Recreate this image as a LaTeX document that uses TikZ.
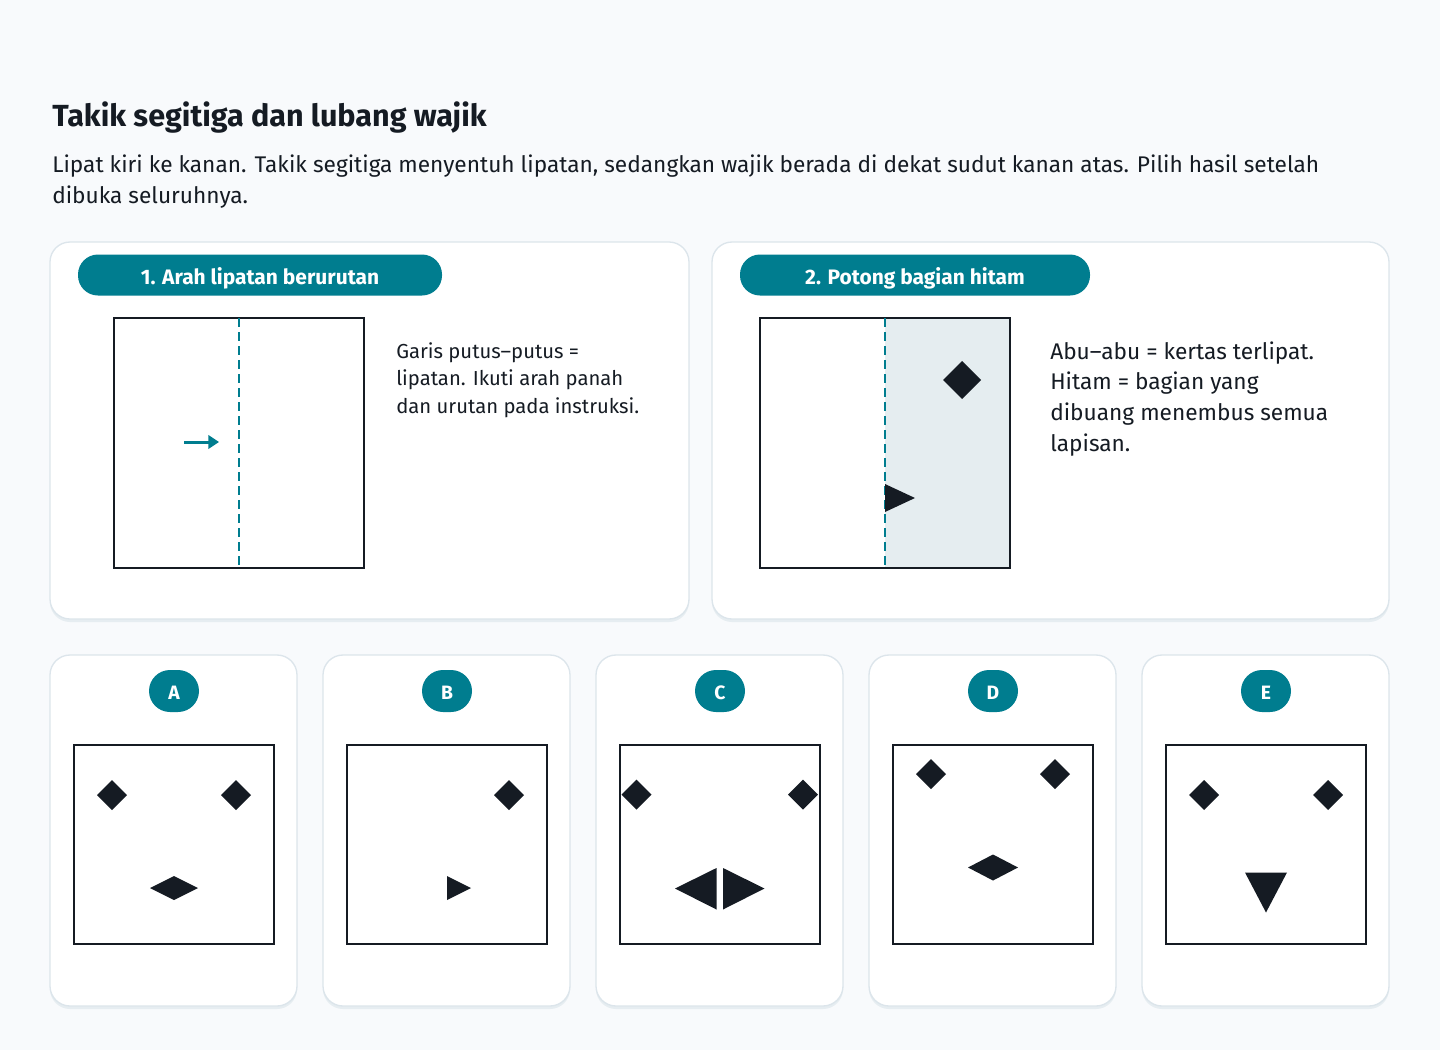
\documentclass[tikz,border=0pt]{standalone}
\usepackage{fontspec}
\setmainfont{Fira Sans}
\usetikzlibrary{arrows.meta}

\definecolor{bgc}{HTML}{F8FAFC}
\definecolor{ink}{HTML}{151B23}
\definecolor{lipteal}{HTML}{007D8F}
\definecolor{cardline}{HTML}{DCE5EB}
\definecolor{shadowc}{HTML}{E6EDF1}
\definecolor{foldgray}{HTML}{E5EDF0}

\tikzset{
  card/.style={draw=cardline, line width=1pt, fill=white, rounded corners=15pt},
  cardshadow/.style={fill=shadowc, rounded corners=15pt},
  pill/.style={fill=lipteal, text=white, rounded corners=15pt, minimum height=30.75pt,
    inner sep=0pt, text height=13.5pt, text depth=0pt, font=\fontsize{15.7}{18}\selectfont\bfseries},
  badge/.style={fill=lipteal, text=white, rounded corners=15.75pt, minimum width=37.5pt,
    minimum height=31.5pt, inner sep=0pt, text height=12.5pt, text depth=0pt,
    font=\fontsize{14.5}{17}\selectfont\bfseries},
  paper/.style={draw=ink, line width=1.5pt},
  fold/.style={draw=lipteal, line width=1.5pt, dash pattern=on 7pt off 3.5pt},
  hole/.style={fill=ink},
  note/.style={anchor=base west, inner sep=0pt, text=ink}
}

% diamond hole: centre x, centre y, half width, half height
\newcommand{\wajik}[4]{\fill[hole] (#1-#3,#2) -- (#1,#2-#4) -- (#1+#3,#2) -- (#1,#2+#4) -- cycle;}

\begin{document}
\begin{tikzpicture}[x=0.75pt,y=-0.75pt]
  \fill[bgc] (0,0) rectangle (1440,1050);
  \useasboundingbox (0,0) rectangle (1440,1050);

  % heading
  \node[note, font=\fontsize{22.9}{27}\selectfont\bfseries] (judul) at (52,126) {Takik segitiga dan lubang wajik};
  \node[note, font=\fontsize{17}{20}\selectfont] (soal1) at (52,172) {Lipat kiri ke kanan. Takik segitiga menyentuh lipatan, sedangkan wajik berada di dekat sudut kanan atas. Pilih hasil setelah};
  \node[note, font=\fontsize{17}{20}\selectfont] (soal2) at (52,203) {dibuka seluruhnya.};

  % step cards
  \fill[cardshadow] (50,245) rectangle (689,622);
  \draw[card] (50,242) rectangle (689,619);
  \fill[cardshadow] (712,245) rectangle (1389,622);
  \draw[card] (712,242) rectangle (1389,619);
  \node[pill, minimum width=273pt] (langkah1) at (260,275) {1. Arah lipatan berurutan};
  \node[pill, minimum width=262.5pt] (langkah2) at (915,275) {2. Potong bagian hitam};

  % step 1
  \draw[paper, fill=white] (114,318) rectangle (364,568);
  \draw[fold] (239,318) -- (239,568);
  \draw[lipteal, line width=2.25pt, -{Triangle[length=8pt,width=10pt]}] (184,442) -- (219,442);
  \foreach \t [count=\i] in {Garis putus–putus =, lipatan. Ikuti arah panah, dan urutan pada instruksi.}
    \node[note, font=\fontsize{15.2}{19}\selectfont] (ket1-\i) at (396,358+27.7*\i-27.7) {\t};

  % step 2
  \fill[white] (760,318) rectangle (885,568);
  \fill[foldgray] (885,318) rectangle (1010,568);
  \draw[paper] (760,318) rectangle (1010,568);
  \draw[fold] (885,318) -- (885,568);
  \wajik{962}{380}{19}{19}
  \fill[hole] (885,484) -- (915,498) -- (885,512) -- cycle;
  \foreach \t [count=\i] in {Abu–abu = kertas terlipat., Hitam = bagian yang, dibuang menembus semua, lapisan.}
    \node[note, font=\fontsize{17}{20}\selectfont] (ket2-\i) at (1050,359+30.7*\i-30.7) {\t};

  % answer cards
  \foreach \x/\l in {50/A,323/B,596/C,869/D,1142/E} {
    \fill[cardshadow] (\x,658) rectangle (\x+247,1009);
    \draw[card] (\x,655) rectangle (\x+247,1006);
    \node[badge] (opsi\l) at (\x+124,691) {\l};
    \draw[paper, fill=white] (\x+24,745) rectangle (\x+224,944);
  }

  % A
  \wajik{112}{795}{15}{15}
  \wajik{236}{795}{15}{15}
  \wajik{174}{888}{24}{12}
  % B
  \wajik{509}{795}{15}{15}
  \fill[hole] (447,876) -- (471,888) -- (447,900) -- cycle;
  % C
  \wajik{636.5}{794.5}{15}{15}
  \wajik{803}{794.5}{15}{15}
  \fill[hole] (716.5,868) -- (716.5,909.5) -- (675,888.5) -- cycle;
  \fill[hole] (723,868) -- (723,909.5) -- (764.5,888.5) -- cycle;
  % D
  \wajik{931}{774}{15}{15}
  \wajik{1055}{774}{15}{15}
  \wajik{993}{867.5}{25}{13}
  % E
  \wajik{1204}{795}{15}{15}
  \wajik{1328}{795}{15}{15}
  \fill[hole] (1245,872.5) -- (1287,872.5) -- (1266,912.5) -- cycle;
\end{tikzpicture}
\end{document}
